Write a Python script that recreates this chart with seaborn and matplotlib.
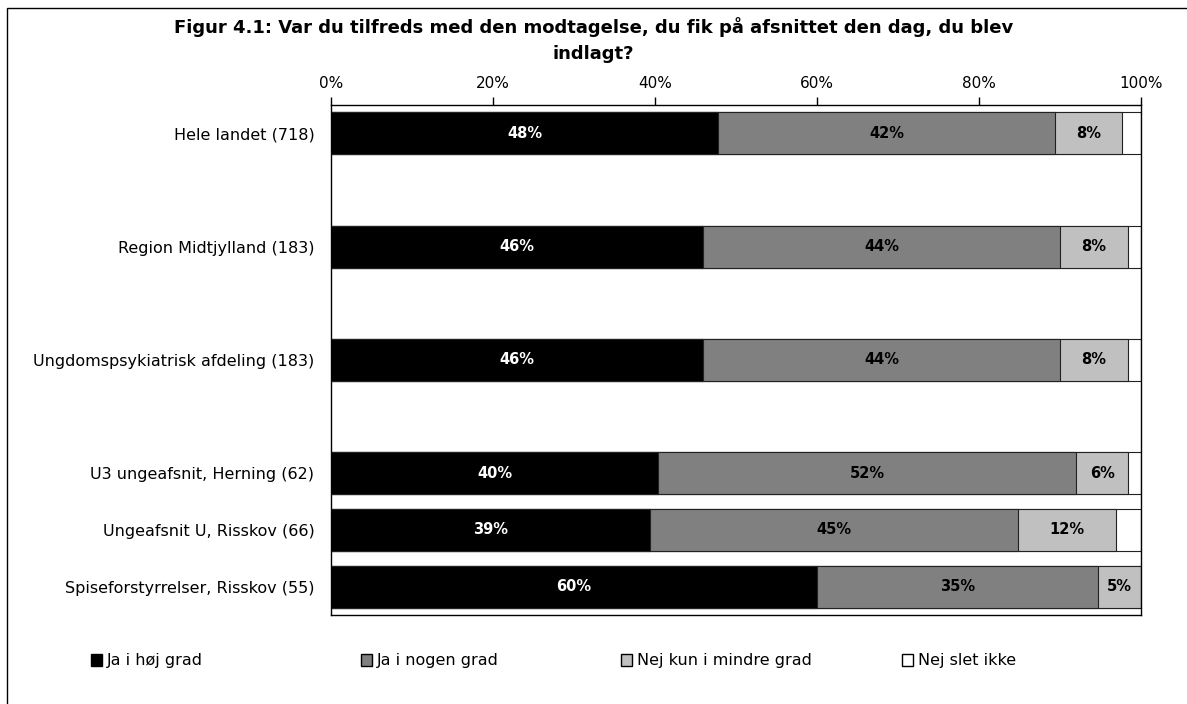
# Figur 4.1 - tilfredshed med modtagelsen, stablede vandrette søjler

import matplotlib
matplotlib.use("Agg")
import matplotlib.pyplot as plt
from matplotlib.patches import Patch, Rectangle
import seaborn as sns
import pandas as pd

# Data (procent)
groups = ["Hele landet (718)", "Region Midtjylland (183)",
          "Ungdomspsykiatrisk afdeling (183)", "U3 ungeafsnit, Herning (62)",
          "Ungeafsnit U, Risskov (66)", "Spiseforstyrrelser, Risskov (55)"]
ja_hoej = [47.8, 45.9, 45.9, 40.4, 39.4, 60.0]
ja_nogen = [41.6, 44.1, 44.1, 51.6, 45.4, 34.7]
nej_mindre = [8.2, 8.4, 8.4, 6.4, 12.1, 5.3]
nej_slet = [2.4, 1.6, 1.6, 1.6, 3.1, 0.0]

answers = ["Ja i høj grad", "Ja i nogen grad", "Nej kun i mindre grad", "Nej slet ikke"]
colors = ["#000000", "#808080", "#C0C0C0", "#FFFFFF"]
text_colors = ["white", "black", "black", None]

# tomme rækker mellem de første grupper
order = [groups[0], "", groups[1], " ", groups[2], "  ",
         groups[3], groups[4], groups[5]]

sns.set_style("white")
plt.rcParams["font.family"] = ["DejaVu Sans"]
plt.rcParams["text.color"] = "black"
plt.rcParams["xtick.color"] = "black"
plt.rcParams["ytick.color"] = "black"

df = pd.DataFrame({"gruppe": groups, "s1": ja_hoej, "s2": ja_nogen,
                   "s3": nej_mindre, "s4": nej_slet})
df["c1"] = df["s1"]
df["c2"] = df["c1"] + df["s2"]
df["c3"] = df["c2"] + df["s3"]
df["c4"] = df["c3"] + df["s4"]

fig = plt.figure(figsize=(11.87, 7.04), dpi=100)
ax = fig.add_axes([331 / 1187, 1 - 615 / 704, 810 / 1187, 510 / 704])

# tegn kumulative søjler bagfra
for k in [4, 3, 2, 1]:
    sns.barplot(data=df, x=f"c{k}", y="gruppe", order=order, orient="h",
                color=colors[k - 1], saturation=1, width=0.74,
                edgecolor="#222222", linewidth=0.8, ax=ax, errorbar=None)

# værdietiketter
segs = [ja_hoej, ja_nogen, nej_mindre]
for i, g in enumerate(groups):
    pos = order.index(g)
    left = 0
    for k, seg in enumerate(segs):
        v = seg[i]
        ax.text(left + v / 2, pos, f"{v:.0f}%", ha="center", va="center",
                color=text_colors[k], fontsize=10.5, fontweight="bold")
        left += v

ax.set_xlim(0, 100)
ax.set_xticks(range(0, 101, 20))
ax.set_xticklabels([f"{t}%" for t in range(0, 101, 20)], fontsize=11)
ax.xaxis.tick_top()
ax.tick_params(axis="x", direction="out", length=6, width=1, color="black", pad=4)
ax.tick_params(axis="y", length=0, labelsize=11.5, pad=12)
ax.set_xlabel("")
ax.set_ylabel("")
for s in ax.spines.values():
    s.set_visible(True)
    s.set_color("black")
    s.set_linewidth(1)

fig.text(0.5, 1 - 17 / 704,
         "Figur 4.1: Var du tilfreds med den modtagelse, du fik på afsnittet den dag, du blev\nindlagt?",
         ha="center", va="top", fontsize=13, fontweight="bold", linespacing=1.55)

# forklaring: en celle pr. svar, som i Excel
legend_x = [91, 361, 621, 902]
for h_col, lab, lx in zip(colors, answers, legend_x):
    h = Patch(facecolor=h_col, edgecolor="black", linewidth=1)
    fig.legend([h], [lab], loc="center left",
               bbox_to_anchor=(lx / 1187, 1 - 661 / 704),
               frameon=False, fontsize=11.5, handlelength=0.7,
               handleheight=0.7, handletextpad=0.3,
               borderpad=0, borderaxespad=0)

# ramme om figuren
fig.patches.append(Rectangle((7 / 1187, -0.02), 1.1, 1 - 8 / 704 + 0.02,
                             transform=fig.transFigure, fill=False,
                             edgecolor="black", linewidth=1))

fig.savefig("out.png", dpi=100)
